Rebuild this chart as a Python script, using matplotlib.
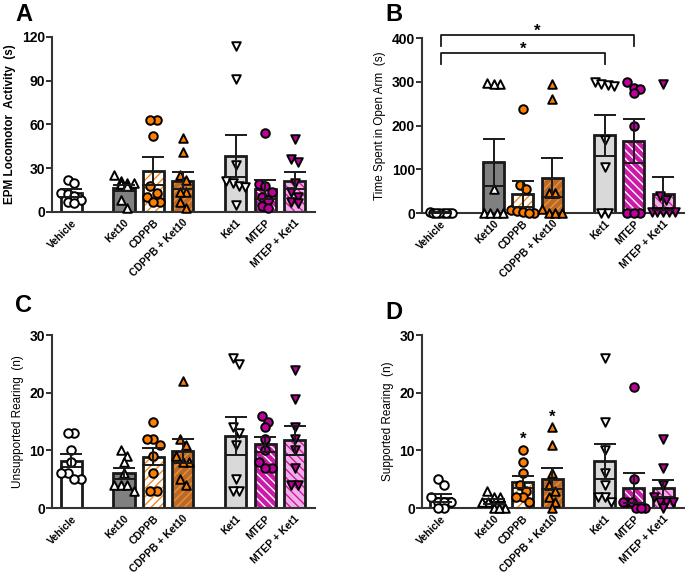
import numpy as np
import matplotlib
matplotlib.use('Agg')
import matplotlib.pyplot as plt

plt.rcParams['font.family'] = ['Liberation Sans', 'DejaVu Sans']
plt.rcParams['hatch.linewidth'] = 1.0

# grupos e posicoes no eixo x
grupos = ['Vehicle', 'Ket10', 'CDPPB', 'CDPPB + Ket10', 'Ket1', 'MTEP', 'MTEP + Ket1']
xpos = [0, 1.8, 2.8, 3.8, 5.6, 6.6, 7.6]

# painel A - EPM locomotor activity (s)
loco_media = [12.8, 16.5, 28.3, 21.5, 38.5, 15.5, 21.5]
loco_sem = [2.6, 2.0, 9.5, 6.0, 14.5, 6.5, 6.0]
loco_pts = [[22, 20, 13, 12, 11, 8, 7, 6],
            [25, 21, 20, 20, 19, 18, 8, 3],
            [63, 63, 52, 18, 13, 10, 7, 7],
            [51, 41, 25, 22, 14, 14, 7, 3],
            [114, 91, 32, 21, 20, 18, 17, 5],
            [54, 19, 18, 14, 10, 8, 4, 3],
            [50, 36, 34, 20, 14, 10, 7, 6]]

# painel B - time spent in open arm (s)
open_media = [1, 116, 44, 81, 178, 165, 44]
open_sem = [0.5, 53, 30, 45, 47, 50, 38]
open_pts = [[3, 1, 0, 0, 0, 0, 0, 0],
            [298, 295, 295, 55, 0, 0, 0, 0],
            [238, 64, 56, 8, 5, 2, 0, 0],
            [295, 261, 47, 46, 10, 0, 0, 0],
            [300, 295, 292, 290, 166, 105, 0, 0],
            [300, 285, 283, 275, 198, 0, 0, 0],
            [295, 38, 30, 3, 3, 3, 2, 2]]

# painel C - unsupported rearing (n)
unsup_media = [8.25, 6.0, 8.9, 9.9, 12.5, 11.1, 11.75]
unsup_sem = [1.2, 0.9, 1.5, 2.0, 3.3, 1.3, 2.5]
unsup_pts = [[13, 13, 10, 8, 6, 6, 5, 5],
             [10, 9, 8, 6, 4, 4, 4, 3],
             [15, 12, 12, 11, 9, 6, 3, 3],
             [22, 12, 11, 9, 8, 8, 5, 4],
             [26, 25, 14, 13, 11, 5, 3, 3],
             [16, 15, 14, 12, 10, 8, 7, 7],
             [24, 19, 14, 12, 10, 7, 4, 4]]

# painel D - supported rearing (n)
sup_media = [1.75, 1.1, 4.5, 5.1, 8.1, 3.5, 3.4]
sup_sem = [0.7, 0.4, 1.1, 1.8, 3.1, 2.6, 1.5]
sup_pts = [[5, 4, 2, 1, 1, 1, 0, 0],
           [3, 2, 2, 1, 1, 0, 0, 0],
           [10, 8, 6, 4, 3, 2, 2, 1],
           [14, 11, 6, 4, 3, 2, 1, 0],
           [26, 15, 10, 6, 4, 2, 2, 1],
           [21, 5, 1, 1, 1, 0, 0, 0],
           [12, 7, 4, 2, 1, 1, 1, 0]]

# estilos por grupo
cor_barra = ['white', '#808080', 'white', '#b86a2c', '#d9d9d9', '#cc1aa8', '#f0b0e6']
cor_hatch = [None, None, '#f28a1e', '#f0902c', None, 'white', '#cc1aa8']
hatch = [None, None, '////', '////', None, '\\\\\\\\', '\\\\\\\\']
marcador = ['o', '^', 'o', '^', 'v', 'o', 'v']
cor_pt = ['white', 'white', '#ff8000', '#ff8000', 'white', '#c0009c', '#c0009c']


def swarm(vals, ymax):
    # agrupa valores proximos em "linhas" e espalha cada linha na horizontal
    dy = ymax * 0.045
    dx = 0.22
    ordem = np.argsort(vals)[::-1]
    linhas = []
    for j in ordem:
        if linhas and vals[linhas[-1][0]] - vals[j] < dy:
            linhas[-1].append(j)
        else:
            linhas.append([j])
    offs = np.zeros(len(vals))
    for lin in linhas:
        n = len(lin)
        if n > 1:
            passo = min(dx, 0.78 / (n - 1))
            for k, j in enumerate(lin):
                offs[j] = (k - (n - 1) / 2) * passo
    return offs


def painel(ax, medias, sems, pts, ymax, ystep, ylabel, bold_label=False):
    for i in range(len(grupos)):
        if hatch[i]:
            ax.bar(xpos[i], medias[i], width=0.72, color=cor_barra[i], hatch=hatch[i],
                   edgecolor=cor_hatch[i], linewidth=0, zorder=1)
            ax.bar(xpos[i], medias[i], width=0.72, facecolor='none',
                   edgecolor='#1a1a1a', linewidth=2.0, zorder=2)
        else:
            ax.bar(xpos[i], medias[i], width=0.72, color=cor_barra[i],
                   edgecolor='#1a1a1a', linewidth=2.0, zorder=2)
        offs = swarm(pts[i], ymax)
        ax.scatter(offs + xpos[i], pts[i], s=38, marker=marcador[i],
                   facecolor=cor_pt[i], edgecolor='black', linewidth=1.4,
                   zorder=3, clip_on=False)
        ax.errorbar(xpos[i], medias[i], yerr=sems[i], fmt='none', ecolor='#1a1a1a',
                    elinewidth=1.4, capsize=8, capthick=1.4, zorder=4)
    ax.set_xlim(-0.65, 8.3)
    ax.set_ylim(0, ymax)
    ax.set_yticks(np.arange(0, ymax + 1, ystep))
    ax.set_xticks(xpos)
    ax.set_xticklabels(grupos, rotation=45, ha='right', rotation_mode='anchor',
                       fontsize=7.5, fontweight='bold')
    for lab in ax.get_yticklabels():
        lab.set_fontweight('bold')
        lab.set_fontsize(10)
    ax.tick_params(axis='x', length=0, pad=4)
    ax.tick_params(axis='y', length=4, width=1.4, pad=1, color='#333333')
    for s in ['top', 'right']:
        ax.spines[s].set_visible(False)
    for s in ['left', 'bottom']:
        ax.spines[s].set_linewidth(1.5)
        ax.spines[s].set_color('#333333')
    ax.set_ylabel(ylabel, fontsize=8.5, fontweight='bold' if bold_label else 'normal')


fig = plt.figure(figsize=(6.85, 5.76), dpi=100)
axA = fig.add_axes([0.076, 0.632, 0.384, 0.304])
axB = fig.add_axes([0.616, 0.630, 0.382, 0.304])
axC = fig.add_axes([0.076, 0.118, 0.384, 0.300])
axD = fig.add_axes([0.616, 0.118, 0.382, 0.300])

painel(axA, loco_media, loco_sem, loco_pts, 120, 30, 'EPM Locomotor  Activity  (s)', True)
painel(axB, open_media, open_sem, open_pts, 400, 100, 'Time Spent in Open Arm  (s)')
painel(axC, unsup_media, unsup_sem, unsup_pts, 30, 10, 'Unsupported Rearing  (n)')
painel(axD, sup_media, sup_sem, sup_pts, 30, 10, 'Supported Rearing  (n)')

# colchetes de significancia no painel B
kw = dict(color='#1a1a1a', linewidth=1.3, clip_on=False)
axB.plot([xpos[0], xpos[0], xpos[5], xpos[5]], [382, 407, 407, 382], **kw)
axB.plot([xpos[0], xpos[0], xpos[4], xpos[4]], [341, 366, 366, 341], **kw)
axB.text((xpos[0] + xpos[5]) / 2, 398, '*', ha='center', va='bottom', fontsize=12, fontweight='bold')
axB.text((xpos[0] + xpos[4]) / 2, 357, '*', ha='center', va='bottom', fontsize=12, fontweight='bold')

# asteriscos no painel D
axD.text(xpos[2], 10.6, '*', ha='center', va='bottom', fontsize=12, fontweight='bold')
axD.text(xpos[3], 14.4, '*', ha='center', va='bottom', fontsize=12, fontweight='bold')

# letras dos paineis
for letra, x, y in [('A', 0.022, 0.995), ('B', 0.562, 0.995), ('C', 0.022, 0.49), ('D', 0.562, 0.478)]:
    fig.text(x, y, letra, fontsize=17, fontweight='bold', ha='left', va='top')

plt.savefig('out.png', dpi=100)
plt.close()
